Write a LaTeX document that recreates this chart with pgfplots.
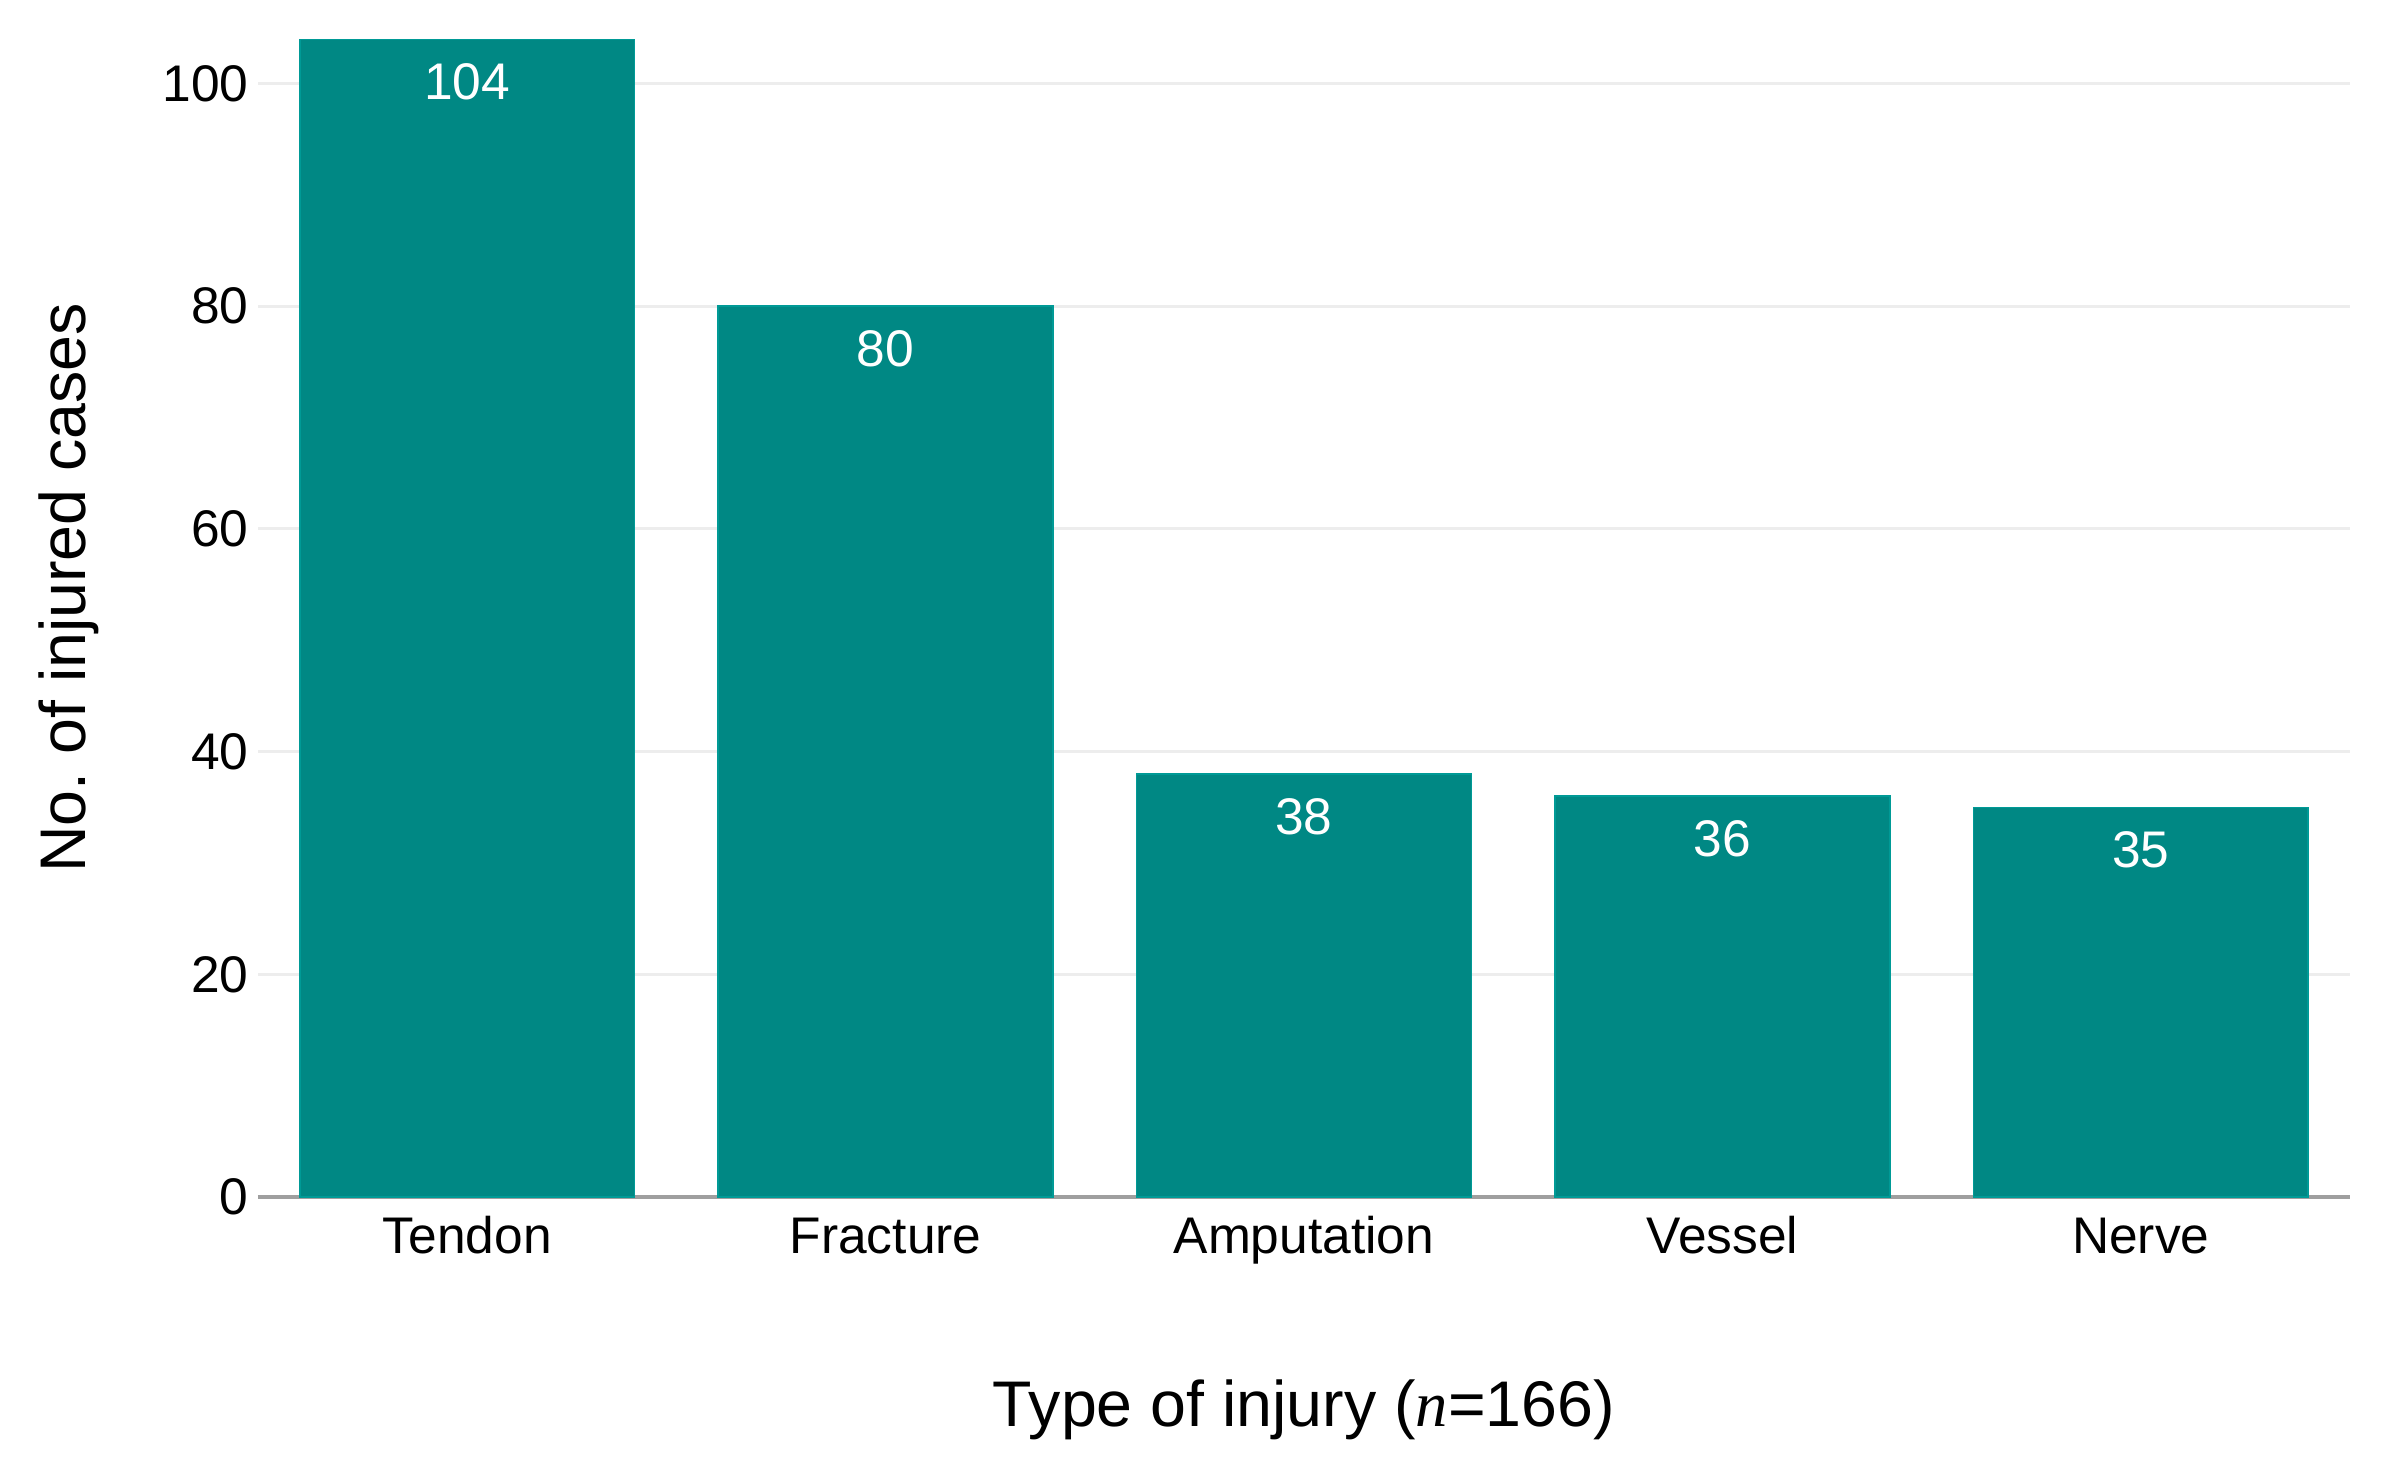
\documentclass[border=0pt]{standalone}
\usepackage{pgfplots}
\pgfplotsset{compat=1.18}
\usepackage{fontspec}
\setmainfont{Liberation Sans}
\newfontfamily\serifit{Liberation Serif}
\definecolor{barcol}{RGB}{0,136,132}
\frenchspacing
\begin{document}
\begin{tikzpicture}
\begin{axis}[
  scale only axis, width=418.4pt, height=231.6pt,
  xmin=-0.5, xmax=4.5, ymin=0, ymax=104,
  axis lines*=left,
  x axis line style={color=gray!75, line width=0.9pt},
  y axis line style={draw=none},
  ytick={0,20,40,60,80,100},
  xtick={0,1,2,3,4},
  xticklabels={Tendon,Fracture,Amputation,Vessel,Nerve},
  major tick length=0pt,
  ymajorgrids, grid style={color=gray!14, line width=0.6pt},
  tick label style={font=\fontsize{10.3}{12}\selectfont},
  /pgf/number format/assume math mode=true,
  yticklabel style={xshift=1.6pt},
  xticklabel style={anchor=base, yshift=-11.2pt, inner sep=0pt},
  ybar, bar width=0.8, bar shift=0pt,
  nodes near coords,
  nodes near coords style={anchor=center, yshift=-8.5pt, color=white, font=\fontsize{10.3}{12}\selectfont},
  xlabel={Type of injury ({\serifit\itshape n}=166)},
  ylabel={No.\ of injured cases},
  label style={font=\fontsize{12.9}{15}\selectfont},
  xlabel style={at={([yshift=-42.6pt]axis description cs:0.5,0)}, anchor=center},
  ylabel style={at={([xshift=-37.9pt]axis description cs:0,0.526)}, anchor=center},
]
\addplot[fill=barcol, draw=barcol!85!cyan, line width=0.3pt] coordinates {(0,104) (1,80) (2,38) (3,36) (4,35)};
\end{axis}
\path ([shift={(-51.6pt,-56pt)}]current axis.south west) rectangle ([shift={(6.4pt,7.8pt)}]current axis.north east);
\end{tikzpicture}
\end{document}
